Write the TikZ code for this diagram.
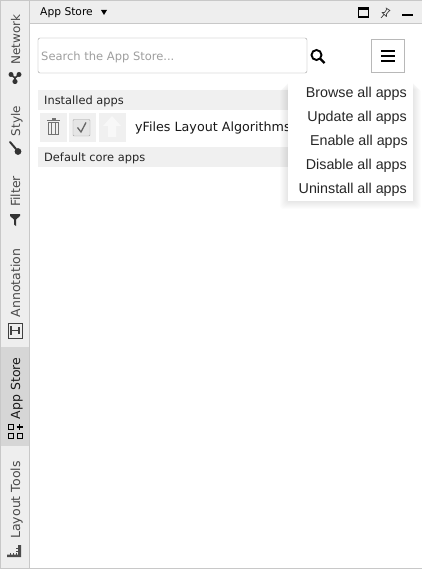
\documentclass[tikz,border=0pt]{standalone}
\usepackage{fontspec}
\setmainfont{DejaVu Sans}
\newfontfamily\menufont{Liberation Sans}
\usetikzlibrary{positioning}
\definecolor{panelgray}{HTML}{EEEEEE}
\definecolor{tabgray}{HTML}{D6D6D6}
\definecolor{linegray}{HTML}{C8C8C8}
\definecolor{bargray}{HTML}{F0F0F0}
\definecolor{textgray}{HTML}{4A4A4A}
\tikzset{%
	tablabel/.style = {rotate=90, text=textgray, font=\fontsize{12.5}{13}\selectfont, inner sep=0pt},
	tabicon/.style  = {fill=black!80, draw=none},
	bar/.style      = {fill=bargray, draw=none, minimum height=20pt, minimum width=372pt, inner sep=0pt},
	barlabel/.style = {text=black!85, font=\fontsize{11.4}{12}\selectfont, inner sep=0pt},
	appbtn/.style   = {fill=bargray, draw=none, minimum width=27pt, minimum height=29pt, inner sep=0pt},
	menuitem/.style = {text=black!85, font=\menufont\fontsize{14.3}{15}\selectfont, inner sep=0pt, anchor=base east},
}
\begin{document}
\begin{tikzpicture}[x=1pt,y=-1pt]
	\useasboundingbox (0,0) rectangle (422,569);
	% panel frame
	\fill[white] (0,0) rectangle (422,569);
	\fill[panelgray] (1,1) rectangle (29,568);
	\fill[panelgray] (29,1) rectangle (422,23);
	\fill[tabgray] (1,347) rectangle (29,446);
	\draw[linegray] (0,.5) -- (422,.5);
	\draw[linegray] (.5,0) -- (.5,569);
	\draw[linegray] (0,568.5) -- (422,568.5);
	\draw[linegray] (29.5,0) -- (29.5,569);
	\draw[linegray] (29,23.5) -- (422,23.5);

	% side tabs
	\node [tablabel, font=\fontsize{12}{13}\selectfont, anchor=base] (network) at (20,39.5) {Network};
	\node [tablabel, font=\fontsize{12}{13}\selectfont, anchor=base] (style) at (20,121) {Style};
	\node [tablabel, anchor=base] (filter) at (20,191.5) {Filter};
	\node [tablabel, anchor=base] (annotation) at (20,283) {Annotation};
	\node [tablabel, anchor=base, text=black!90] (appstore) at (20,388.5) {App Store};
	\node [tablabel, anchor=base] (layouttools) at (20,500) {Layout Tools};

	% tab icons
	\draw[black!80, line width=1.6pt] (11,74.5) -- (15,78) -- (19,74.5) (15,78) -- (15,81.5);
	\fill[black!80] (11,74.5) circle (2.5) (19,74.5) circle (2.5) (15,81.5) circle (2.6);
	\draw[black!80, line width=2pt, line cap=round] (10,142) -- (16,149);
	\fill[black!80] (18,151.5) circle (3.4);
	\fill[tabicon] (10,214) -- (20,214) -- (20,216) -- (16,219.5) -- (16,226) -- (14,224.5) -- (14,219.5) -- (10,216) -- cycle;
	\draw[black!75, line width=1pt] (8,323) rectangle (22,338);
	\draw[black!75, line width=1.1pt] (11,326) -- (11,335) (11,330.5) -- (19,330.5) (19,327) -- (19,334);
	\draw[black, line width=1pt] (8,424.5) rectangle (13,429.5) (8,433.5) rectangle (13,438.5) (17,433.5) rectangle (22,438.5);
	\draw[black, line width=1.3pt] (19.5,424) -- (19.5,430) (16.5,427) -- (22.5,427);
	\fill[black!70] (7,557) -- (7,554.5) -- (18,554.5) -- (18,545) -- (21,545) -- (21,557) -- cycle;
	\draw[black!70, line width=.7pt] (10,555) -- (10,552.5) (13,555) -- (13,552.5) (16,555) -- (16,552.5) (18,551) -- (16,551) (18,548) -- (16,548);

	% header
	\node [barlabel, text=black, anchor=base west, font=\fontsize{10.7}{12}\selectfont] (title) at (40,16) {App Store};
	\fill[black] (101,10) -- (107,10) -- (104,15) -- cycle;
	\draw[black, line width=1.1pt] (358.5,8) rectangle (368.5,17);
	\draw[black, line width=2.2pt] (358,8.5) -- (369,8.5);
	\draw[black!75, line width=.7pt, line join=round] (381,18) -- (384,14.5) (382,12.5) -- (384.5,12.5) -- (387,9) -- (386,8) -- (390,10.5) -- (389,11) -- (386.5,14) -- (386.5,16.5) -- cycle;
	\fill[black] (402,14) rectangle (413,16.5);

	% search row
	\node [draw=black!38, rounded corners=2pt, fill=white, minimum width=269pt, minimum height=35pt, inner sep=0pt] (search) at (172.5,55.5) {};
	\node [text=black!38, anchor=base west, inner sep=0pt, font=\fontsize{11.5}{12}\selectfont] (searchtext) at (41,60.5) {Search the App Store...};
	\draw[black, line width=1.9pt] (316.5,55) circle (5);
	\draw[black, line width=2.4pt] (320,58.5) -- (324.5,63);
	\node [draw=black!28, fill=white, minimum width=33pt, minimum height=33pt, inner sep=0pt] (menubtn) at (387.5,56) {};
	\foreach \y in {51,56,61}
		\draw[black, line width=2pt] (381,\y) -- (394.5,\y);

	% app list
	\node [bar, anchor=west] (installed) at (38,100) {};
	\node [barlabel, anchor=base west] (installedtext) at (44,105) {Installed apps};
	\node [appbtn] (trash) at (53.5,127.5) {};
	\node [appbtn] (check) [right=2pt of trash] {};
	\node [appbtn] (update) [right=2pt of check] {};
	\node [anchor=base west, inner sep=0pt, text=black!90, font=\fontsize{12.7}{13}\selectfont] (yfiles) at (135,132) {yFiles Layout Algorithms};
	\node [bar, anchor=west] (defaults) at (38,157) {};
	\node [barlabel, anchor=base west] (defaultstext) at (44,162) {Default core apps};

	% trash, check and arrow glyphs
	\draw[black!55, line width=1.2pt] (47,120.5) -- (60,120.5);
	\fill[black!55] (51.5,118) rectangle (55.5,120);
	\draw[black!55, line width=1.2pt] (48.5,122.5) rectangle (58.5,134.5);
	\draw[black!55, line width=1.2pt] (51.8,123) -- (51.8,134) (55.2,123) -- (55.2,134);
	\draw[black!35, fill=black!10, rounded corners=1pt] (73,119.5) rectangle (90,136);
	\draw[black!60, line width=1.3pt] (77.5,127.5) -- (81,132) -- (86,122.5);
	\fill[white!50!bargray] (112,116) -- (121,126) -- (116,126) -- (116,137) -- (108,137) -- (108,126) -- (103,126) -- cycle;

	% drop-down menu
	\foreach \g in {1,...,8}
		\fill[black, opacity=.012, rounded corners=3pt] (288-\g,82+\g-1) rectangle (413+\g,201+\g);
	\node [fill=white, draw=none, minimum width=125pt, minimum height=119pt, inner sep=0pt, anchor=north west] (menu) at (288,82) {};
	\node [menuitem] (browse) at (407,98) {Browse all apps};
	\node [menuitem] (updateall) at (407,122) {Update all apps};
	\node [menuitem] (enable) at (408,146) {Enable all apps};
	\node [menuitem] (disable) at (407,170) {Disable all apps};
	\node [menuitem] (uninstall) at (407,193.5) {Uninstall all apps};
\end{tikzpicture}
\end{document}
